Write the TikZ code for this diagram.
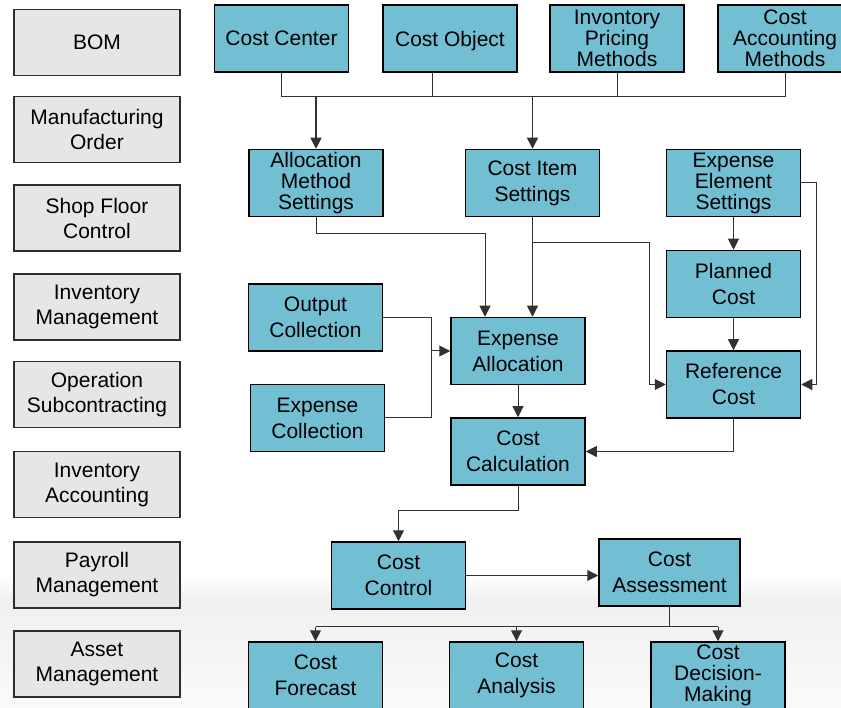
\documentclass[tikz,border=0pt]{standalone}
\usepackage{fontspec}
\setmainfont{Liberation Sans}
\usetikzlibrary{arrows.meta}
\definecolor{costblue}{RGB}{114,191,212}
\definecolor{sidegray}{RGB}{230,230,230}
\definecolor{sideedge}{RGB}{45,45,45}
\definecolor{linkgray}{RGB}{50,50,50}
\tikzset{
  blueblock/.style={draw=black,line width=1.5pt,fill=costblue,minimum width=134pt,minimum height=67pt,
    inner sep=0pt,align=center,font=\fontsize{21}{26}\selectfont},
  tightlines/.style={font=\fontsize{21}{21}\selectfont},
  sideblock/.style={draw=sideedge,line width=1.5pt,fill=sidegray,minimum width=166pt,minimum height=66pt,
    inner sep=0pt,align=center,font=\fontsize{21}{25}\selectfont},
  link/.style={draw=linkgray,line width=1pt},
}
\begin{document}
\begin{tikzpicture}[x=1pt,y=-1pt,>={Triangle[length=11pt,width=11pt]}]
\useasboundingbox (0,0) rectangle (841,708);
\clip (0,0) rectangle (841,708);
% background fade at the bottom
\shade[top color=white,bottom color=gray!12] (0,575) rectangle (841,600);
\shade[top color=gray!12,bottom color=gray!4] (0,600) rectangle (841,708);
% left column
\foreach \name/\y/\txt in {bom/42.5/BOM,mo/129.5/{Manufacturing\\Order},sfc/218/{Shop Floor\\Control},
  im/307/{Inventory\\Management},os/394.5/{Operation\\Subcontracting},ia/484.5/{Inventory\\Accounting},
  pm/575/{Payroll\\Management},am/664/{Asset\\Management}}
  \node[sideblock] (\name) at (97,\y) {\txt};
% top row
\node[blueblock] (ccenter) at (281.5,38.5) {Cost Center};
\node[blueblock,text depth=0pt] (cobject) at (450,38.5) {Cost Object};
\node[blueblock,tightlines] (ipm) at (617,38.5) {Invontory\\Pricing\\Methods};
\node[blueblock,tightlines] (cam) at (785,38.5) {Cost\\Accounting\\Methods};
% settings
\node[blueblock,tightlines] (ams) at (316,183) {Allocation\\Method\\Settings};
\node[blueblock] (cis) at (532.5,183) {Cost Item\\Settings};
\node[blueblock,tightlines] (ees) at (733.5,183) {Expense\\Element\\Settings};
\node[blueblock] (plan) at (733.5,284) {Planned\\Cost};
\node[blueblock] (ref) at (733.5,384.5) {Reference\\Cost};
\node[blueblock] (outc) at (315.5,317.5) {Output\\Collection};
\node[blueblock] (expc) at (317.5,418) {Expense\\Collection};
\node[blueblock] (expa) at (518,351) {Expense\\Allocation};
\node[blueblock] (calc) at (518,451.5) {Cost\\Calculation};
\node[blueblock] (ctrl) at (398.5,575.5) {Cost\\Control};
\node[blueblock,minimum width=141pt] (assess) at (669.5,572.5) {Cost\\Assessment};
\node[blueblock] (fcst) at (315.5,675.5) {Cost\\Forecast};
\node[blueblock] (anal) at (516.5,675.5) {Cost\\Analysis};
\node[blueblock,tightlines] (dec) at (718,675.5) {Cost\\Decision-\\Making};
% top bus
\coordinate (bus) at (0,97);
\draw[link] (ccenter.south) |- (cam.south |- bus) -- (cam.south);
\draw[link] ([xshift=-18pt]cobject.south) -- ([xshift=-18pt]cobject.south |- bus);
\draw[link] (ipm.south) -- (ipm.south |- bus);
\draw[link,line width=1.5pt,->] (ams.north |- bus) -- (ams.north);
\draw[link,line width=1.5pt,->] (cis.north |- bus) -- (cis.north);
% into expense allocation and reference cost
\draw[link,->] (ams.south) -- ++(0,16) -| ([xshift=-33pt]expa.north);
\draw[link,->] (cis.south) -- (cis.south |- expa.north);
\draw[link,->] (cis.south) -- ++(0,25) -| ([xshift=-16pt]ref.west) -- (ref.west);
\draw[link,->] (ees) -- (plan);
\draw[link,->] (plan) -- (ref);
\draw[link,->] (ees.east) -- ++(15,0) |- (ref.east);
\draw[link] (outc.east) -| ([xshift=-19pt]expa.west) |- (expc.east);
\draw[link,->] ([xshift=-19pt]expa.west) -- (expa.west);
% calculation and after
\draw[link,->] (expa) -- (calc);
\draw[link,->] (ref.south) |- (calc.east);
\draw[link,->] (calc.south) -- ++(0,25) -| (ctrl.north);
\draw[link,->] (ctrl.east) -- (ctrl.east -| assess.west);
\draw[link] (assess.south) -- ++(0,20) coordinate (split);
\draw[link] (fcst.north |- split) -- (dec.north |- split);
\foreach \n in {fcst,anal,dec}
  \draw[link,->] (\n.north |- split) -- (\n.north);
\end{tikzpicture}
\end{document}
